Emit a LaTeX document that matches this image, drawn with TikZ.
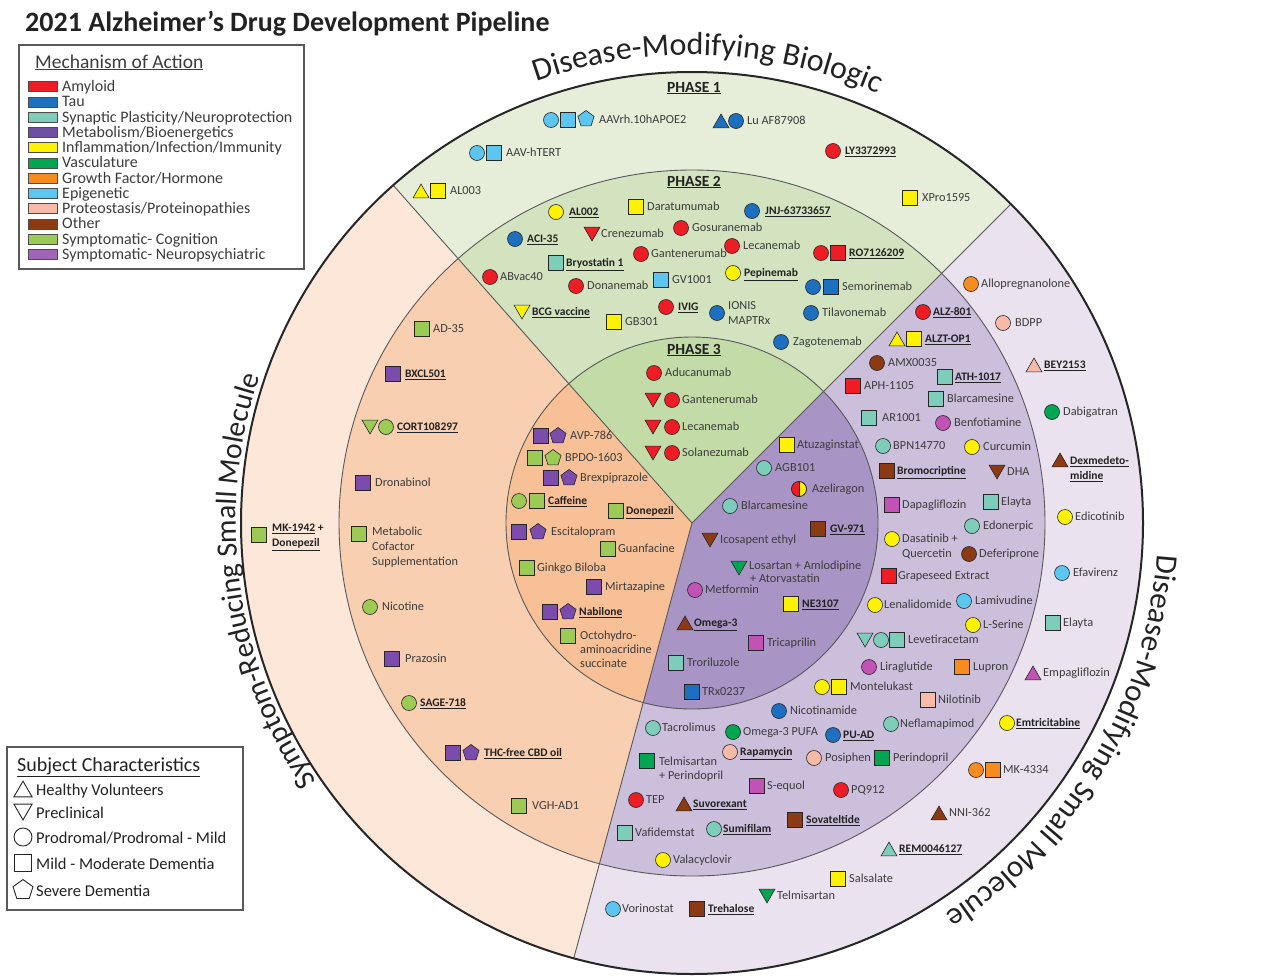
\documentclass[tikz,border=0pt]{standalone}
\usepackage{fontspec}
\setmainfont{Carlito}
\usetikzlibrary{shapes.geometric,decorations.text}
\definecolor{amy}{HTML}{EE1C25}
\definecolor{tau}{HTML}{1D6FC0}
\definecolor{syn}{HTML}{7ECDBB}
\definecolor{metL}{HTML}{6E4FA3}
\definecolor{met}{HTML}{C152B6}
\definecolor{inf}{HTML}{FFF200}
\definecolor{vas}{HTML}{00A651}
\definecolor{gro}{HTML}{F68B1F}
\definecolor{epi}{HTML}{5CC6F0}
\definecolor{pro}{HTML}{F7B9A8}
\definecolor{oth}{HTML}{8B3A14}
\definecolor{cog}{HTML}{9CCB55}
\definecolor{neu}{HTML}{7B4CAB}
\definecolor{neuL}{HTML}{A065B5}
\definecolor{gO}{HTML}{E6EDD9}
\definecolor{gM}{HTML}{D4E3BF}
\definecolor{gI}{HTML}{C3DBA6}
\definecolor{pO}{HTML}{FDE7D9}
\definecolor{pM}{HTML}{F9CFB1}
\definecolor{pI}{HTML}{F7C096}
\definecolor{vO}{HTML}{EAE2EE}
\definecolor{vM}{HTML}{CBBFDC}
\definecolor{vI}{HTML}{A894C5}
\definecolor{txt}{HTML}{3C3C3C}
\definecolor{txtb}{HTML}{222222}
\newcommand\drugfont{\fontsize{12.3}{14}\selectfont}
\newcommand\drugfontb{\fontsize{11.5}{13}\selectfont\bfseries}
\newcommand\dmk[5]{\node[#4,fill=#5] (#1) at (#2,#3) {};}
\newcommand\dlab[4]{\node[lb] (#1) at (#2,#3) {#4};}
\newcommand\dlabb[4]{\node[lbb] (#1) at (#2,#3) {\underline{#4}};}
\tikzset{
 mk/.style={draw=black!85, line width=0.6pt, inner sep=0pt, outer sep=0pt},
 ci/.style={mk, circle, minimum size=15pt},
 sq/.style={mk, rectangle, minimum size=14.5pt},
 tri/.style={mk, regular polygon, regular polygon sides=3, minimum size=18.5pt},
 tu/.style={tri, yshift=-2.3pt},
 td/.style={tri, shape border rotate=180, yshift=2.3pt},
 pg/.style={mk, regular polygon, regular polygon sides=5, minimum size=17pt},
 lb/.style={anchor=base west, inner sep=0pt, font=\drugfont, text=txt, yshift=-3.9pt},
 lbb/.style={lb, font=\drugfontb, text=txtb},
 phase/.style={inner sep=0pt, font=\fontsize{15.5}{17}\selectfont\bfseries, text=txtb},
 thinl/.style={line width=0.9pt, draw=black!65},
 sw/.style={line width=0.5pt, draw=black!70},
 leglab/.style={anchor=base west, inner sep=0pt, font=\fontsize{16}{18}\selectfont, text=txt},
 open/.style={draw=black!85, line width=0.9pt, fill=white, inner sep=0pt, outer sep=0pt},
 sclab/.style={anchor=base west, inner sep=0pt, font=\fontsize{16.5}{18}\selectfont, text=txtb},
}
\begin{document}
\begin{tikzpicture}[x=1pt, y=-1pt]
\path[use as bounding box, fill=white] (0,0) rectangle (1265,977);

% ---------- wheel ----------
\begin{scope}[shift={(692,523)}, y=1pt]
 \fill[gO] (0,0) -- (45:451pt) arc[start angle=45, end angle=131.5, radius=451pt] -- cycle;
 \fill[pO] (0,0) -- (131.5:451pt) arc[start angle=131.5, end angle=254.8, radius=451pt] -- cycle;
 \fill[vO] (0,0) -- (254.8:451pt) arc[start angle=254.8, end angle=405, radius=451pt] -- cycle;
 \fill[gM] (0,0) -- (45:353pt) arc[start angle=45, end angle=131.5, radius=353pt] -- cycle;
 \fill[pM] (0,0) -- (131.5:353pt) arc[start angle=131.5, end angle=254.8, radius=353pt] -- cycle;
 \fill[vM] (0,0) -- (254.8:353pt) arc[start angle=254.8, end angle=405, radius=353pt] -- cycle;
 \fill[gI] (0,0) -- (45:186pt) arc[start angle=45, end angle=131.5, radius=186pt] -- cycle;
 \fill[pI] (0,0) -- (131.5:186pt) arc[start angle=131.5, end angle=254.8, radius=186pt] -- cycle;
 \fill[vI] (0,0) -- (254.8:186pt) arc[start angle=254.8, end angle=405, radius=186pt] -- cycle;
 \draw[thinl] (0,0) circle[radius=353pt];
 \draw[thinl] (0,0) circle[radius=186pt];
 \draw[thinl] (0,0) -- (45:451pt);
 \draw[thinl] (0,0) -- (131.5:451pt);
 \draw[thinl] (0,0) -- (254.8:451pt);
 \draw[line width=2pt, draw=black!85] (0,0) circle[radius=451pt];
 \path[decorate, decoration={text along path, text align=center, text color=txtb,
   text={|\fontsize{32}{32}\selectfont|Disease-Modifying Biologic}}]
   (118:468pt) arc[start angle=118, end angle=58, radius=468pt];
 \path[decorate, decoration={text along path, text align=center, text color=txtb,
   text={|\fontsize{29.5}{30}\selectfont|Symptom-Reducing Small Molecule}}]
   (222:456pt) arc[start angle=222, end angle=153.8, radius=456pt];
 \path[decorate, decoration={text along path, text align=center, text color=txtb,
   text={|\fontsize{31}{31}\selectfont|Disease-Modifying Small Molecule}}]
   (2:466pt) arc[start angle=2, end angle=-63, radius=466pt];
\end{scope}

% ---------- title ----------
\node[anchor=west, inner sep=0pt, font=\fontsize{28}{32}\selectfont\bfseries, text=txtb] (title) at (25,24) {2021 Alzheimer’s Drug Development Pipeline};

% ---------- legend 1 ----------
\draw[line width=1.2pt, draw=black!65] (19,45) rectangle (304,269);
\node[anchor=base west, inner sep=0pt, font=\fontsize{19.5}{21}\selectfont, text=txt] (moa) at (35,68) {\underline{Mechanism of Action}};
\draw[sw, fill=amy] (28,81.5) rectangle (57,91.5);
\draw[sw, fill=tau] (28,96.75) rectangle (57,106.75);
\draw[sw, fill=syn] (28,112) rectangle (57,122);
\draw[sw, fill=metL] (28,127.25) rectangle (57,137.25);
\draw[sw, fill=inf] (28,142.5) rectangle (57,152.5);
\draw[sw, fill=vas] (28,157.75) rectangle (57,167.75);
\draw[sw, fill=gro] (28,173) rectangle (57,183);
\draw[sw, fill=epi] (28,188.25) rectangle (57,198.25);
\draw[sw, fill=pro] (28,203.5) rectangle (57,213.5);
\draw[sw, fill=oth] (28,218.75) rectangle (57,228.75);
\draw[sw, fill=cog] (28,234) rectangle (57,244);
\draw[sw, fill=neuL] (28,249.25) rectangle (57,259.25);
\node[leglab] (lg1) at (62,91.5) {Amyloid};
\node[leglab] (lg2) at (62,106.75) {Tau};
\node[leglab] (lg3) at (62,122) {Synaptic Plasticity/Neuroprotection};
\node[leglab] (lg4) at (62,137.25) {Metabolism/Bioenergetics};
\node[leglab] (lg5) at (62,152.5) {Inflammation/Infection/Immunity};
\node[leglab] (lg6) at (62,167.75) {Vasculature};
\node[leglab] (lg7) at (62,183) {Growth Factor/Hormone};
\node[leglab] (lg8) at (62,198.25) {Epigenetic};
\node[leglab] (lg9) at (62,213.5) {Proteostasis/Proteinopathies};
\node[leglab] (lg10) at (62,228.75) {Other};
\node[leglab] (lg11) at (62,244) {Symptomatic- Cognition};
\node[leglab] (lg12) at (62,259.25) {Symptomatic- Neuropsychiatric};

% ---------- legend 2 ----------
\draw[line width=1.2pt, draw=black!65] (7,747) rectangle (243,910);
\node[anchor=base west, inner sep=0pt, font=\fontsize{20}{22}\selectfont, text=txtb] (sct) at (17,771) {\underline{Subject Characteristics}};
\node[open, regular polygon, regular polygon sides=3, minimum size=21pt, yshift=-2.6pt] (sh1) at (23,789) {};
\node[open, regular polygon, regular polygon sides=3, shape border rotate=180, minimum size=21pt, yshift=2.6pt] (sh2) at (23,812) {};
\node[open, circle, minimum size=18pt] (sh3) at (23,837) {};
\node[open, rectangle, minimum size=17pt] (sh4) at (23,863) {};
\node[open, regular polygon, regular polygon sides=5, minimum size=21pt] (sh5) at (23,890) {};
\node[sclab] (sc1) at (36,795) {Healthy Volunteers};
\node[sclab] (sc2) at (36,818) {Preclinical};
\node[sclab] (sc3) at (36,843) {Prodromal/Prodromal - Mild};
\node[sclab] (sc4) at (36,869) {Mild - Moderate Dementia};
\node[sclab] (sc5) at (36,896) {Severe Dementia};

% ---------- phase headings ----------
\node[phase] (ph1) at (694,88) {\underline{PHASE 1}};
\node[phase] (ph2) at (694,182) {\underline{PHASE 2}};
\node[phase] (ph3) at (694,350) {\underline{PHASE 3}};

% ---------- Biologic phase 1 ----------
\dmk{a1}{551}{120}{ci}{epi}\dmk{a2}{568}{120}{sq}{epi}\dmk{a3}{586}{119}{pg}{epi}\dlab{b1}{599}{120}{AAVrh.10hAPOE2}
\dmk{a4}{721}{121}{tu}{tau}\dmk{a5}{736}{121}{ci}{tau}\dlab{b2}{747}{121}{Lu AF87908}
\dmk{a6}{477}{153}{ci}{epi}\dmk{a7}{494}{153}{sq}{epi}\dlab{b3}{506}{153}{AAV-hTERT}
\dmk{a8}{833}{151}{ci}{amy}\dlabb{b4}{845}{151}{LY3372993}
\dmk{a9}{421}{191}{tu}{inf}\dmk{a10}{438}{191}{sq}{inf}\dlab{b5}{450}{191}{AL003}
\dmk{a11}{910}{198}{sq}{inf}\dlab{b6}{922}{198}{XPro1595}

% ---------- Biologic phase 2 ----------
\dmk{c1}{556}{212}{ci}{inf}\dlabb{d1}{569}{212}{AL002}
\dmk{c2}{636}{207}{sq}{inf}\dlab{d2}{647}{207}{Daratumumab}
\dmk{c3}{752}{211}{ci}{tau}\dlabb{d3}{765}{211}{JNJ-63733657}
\dmk{c4}{515}{239}{ci}{tau}\dlabb{d4}{527}{239}{ACI-35}
\dmk{c5}{592}{234}{td}{amy}\dlab{d5}{601}{234}{Crenezumab}
\dmk{c6}{681}{228}{ci}{amy}\dlab{d6}{692}{228}{Gosuranemab}
\dmk{c7}{732}{246}{ci}{amy}\dlab{d7}{743}{246}{Lecanemab}
\dmk{c8}{641}{254}{ci}{amy}\dlab{d8}{651}{254}{Gantenerumab}
\dmk{c9}{821}{253}{ci}{amy}\dmk{c10}{838}{253}{sq}{amy}\dlabb{d9}{849}{253}{RO7126209}
\dmk{c11}{556}{263}{sq}{syn}\dlabb{d10}{566}{263}{Bryostatin 1}
\dmk{c12}{490}{277}{ci}{amy}\dlab{d11}{500}{277}{ABvac40}
\dmk{c13}{576}{286}{ci}{amy}\dlab{d12}{587}{286}{Donanemab}
\dmk{c14}{661}{280}{sq}{epi}\dlab{d13}{672}{280}{GV1001}
\dmk{c15}{733}{273}{ci}{inf}\dlabb{d14}{744}{273}{Pepinemab}
\dmk{c16}{813}{287}{ci}{tau}\dmk{c17}{831}{287}{sq}{tau}\dlab{d15}{842}{287}{Semorinemab}
\dmk{c18}{522}{312}{td}{inf}\dlabb{d16}{532}{312}{BCG vaccine}
\dmk{c19}{614}{322}{sq}{inf}\dlab{d17}{625}{322}{GB301}
\dmk{c20}{666}{307}{ci}{amy}\dlabb{d18}{678}{307}{IVIG}
\dmk{c21}{717}{313}{ci}{tau}\dlab{d19}{728}{306}{IONIS}\dlab{d20}{728}{321}{MAPTRx}
\dmk{c22}{811}{313}{ci}{tau}\dlab{d21}{822}{313}{Tilavonemab}
\dmk{c23}{781}{342}{ci}{tau}\dlab{d22}{793}{342}{Zagotenemab}

% ---------- Biologic phase 3 ----------
\dmk{e1}{654}{373}{ci}{amy}\dlab{f1}{665}{373}{Aducanumab}
\dmk{e2}{653}{400}{td}{amy}\dmk{e3}{672}{400}{ci}{amy}\dlab{f2}{682}{400}{Gantenerumab}
\dmk{e4}{653}{427}{td}{amy}\dmk{e5}{672}{427}{ci}{amy}\dlab{f3}{682}{427}{Lecanemab}
\dmk{e6}{653}{453}{td}{amy}\dmk{e7}{672}{453}{ci}{amy}\dlab{f4}{682}{453}{Solanezumab}

% ---------- Symptomatic phase 3 ----------
\dmk{g1}{541}{436}{sq}{neu}\dmk{g2}{558}{436}{pg}{neu}\dlab{h1}{570}{436}{AVP-786}
\dmk{g3}{535}{458}{sq}{cog}\dmk{g4}{553}{458}{pg}{cog}\dlab{h2}{565}{458}{BPDO-1603}
\dmk{g5}{551}{478}{sq}{neu}\dmk{g6}{569}{478}{pg}{neu}\dlab{h3}{580}{478}{Brexpiprazole}
\dmk{g7}{519}{501}{ci}{cog}\dmk{g8}{537}{501}{sq}{cog}\dlabb{h4}{548}{501}{Caffeine}
\dmk{g9}{616}{511}{sq}{cog}\dlabb{h5}{626}{511}{Donepezil}
\dmk{g10}{519}{532}{sq}{neu}\dmk{g11}{538}{532}{pg}{neu}\dlab{h6}{551}{532}{Escitalopram}
\dmk{g12}{608}{549}{sq}{cog}\dlab{h7}{618}{549}{Guanfacine}
\dmk{g13}{527}{568}{sq}{cog}\dlab{h8}{537}{568}{Ginkgo Biloba}
\dmk{g14}{594}{587}{sq}{neu}\dlab{h9}{605}{587}{Mirtazapine}
\dmk{g15}{550}{612}{sq}{neu}\dmk{g16}{568}{612}{pg}{neu}\dlabb{h10}{579}{612}{Nabilone}
\dmk{g17}{568}{636}{sq}{cog}\dlab{h11}{580}{636}{Octohydro-}\dlab{h12}{580}{650}{aminoacridine}\dlab{h13}{580}{664}{succinate}

% ---------- DMSM phase 3 ----------
\dmk{i1}{787}{445}{sq}{inf}\dlab{j1}{797}{445}{Atuzaginstat}
\dmk{i2}{764}{468}{ci}{syn}\dlab{j2}{775}{468}{AGB101}
\dmk{i3}{799}{489}{ci}{inf}
\fill[amy] (i3.north) arc[start angle=90, end angle=270, radius=7.5pt] -- cycle;
\draw[line width=0.6pt, draw=black!85] (i3.north) -- (i3.south);
\draw[line width=0.6pt, draw=black!85] (i3.center) circle[radius=7.5pt];
\dlab{j3}{812}{489}{Azeliragon}
\dmk{i4}{730}{506}{ci}{syn}\dlab{j4}{741}{506}{Blarcamesine}
\dmk{i5}{818}{529}{sq}{oth}\dlabb{j5}{830}{529}{GV-971}
\dmk{i6}{710}{540}{td}{oth}\dlab{j6}{720}{540}{Icosapent ethyl}
\dmk{i7}{739}{568}{td}{vas}\dlab{j7}{749}{566}{Losartan + Amlodipine}\dlab{j8}{750}{579}{+ Atorvastatin}
\dmk{i8}{695}{590}{ci}{met}\dlab{j9}{705}{590}{Metformin}
\dmk{i9}{791}{604}{sq}{inf}\dlabb{j10}{802}{604}{NE3107}
\dmk{i10}{685}{623}{tu}{oth}\dlabb{j11}{694}{623}{Omega-3}
\dmk{i11}{756}{643}{sq}{met}\dlab{j12}{767}{643}{Tricaprilin}
\dmk{i12}{676}{663}{sq}{syn}\dlab{j13}{687}{663}{Troriluzole}
\dmk{i13}{692}{692}{sq}{tau}\dlab{j14}{702}{692}{TRx0237}

% ---------- DMSM phase 2 ----------
\dmk{k1}{923}{312}{ci}{amy}\dlabb{n1}{933}{312}{ALZ-801}
\dmk{k2}{897}{339}{tu}{inf}\dmk{k3}{914}{339}{sq}{inf}\dlabb{n2}{925}{339}{ALZT-OP1}
\dmk{k4}{877}{363}{ci}{oth}\dlab{n3}{888}{363}{AMX0035}
\dmk{k5}{945}{377}{sq}{syn}\dlabb{n4}{955}{377}{ATH-1017}
\dmk{k6}{853}{386}{sq}{amy}\dlab{n5}{864}{386}{APH-1105}
\dmk{k7}{936}{399}{sq}{syn}\dlab{n6}{947}{399}{Blarcamesine}
\dmk{k8}{869}{418}{sq}{syn}\dlab{n7}{882}{418}{AR1001}
\dmk{k9}{943}{423}{ci}{met}\dlab{n8}{954}{423}{Benfotiamine}
\dmk{k10}{883}{446}{ci}{syn}\dlab{n9}{893}{446}{BPN14770}
\dmk{k11}{972}{447}{ci}{inf}\dlab{n10}{983}{447}{Curcumin}
\dmk{k12}{887}{471}{sq}{oth}\dlabb{n11}{897}{471}{Bromocriptine}
\dmk{k13}{997}{472}{td}{oth}\dlab{n12}{1007}{472}{DHA}
\dmk{k14}{892}{505}{sq}{met}\dlab{n13}{902}{505}{Dapagliflozin}
\dmk{k15}{991}{502}{sq}{syn}\dlab{n14}{1001}{502}{Elayta}
\dmk{k16}{972}{526}{ci}{syn}\dlab{n15}{983}{526}{Edonerpic}
\dmk{k17}{892}{539}{ci}{inf}\dlab{n16}{902}{539}{Dasatinib +}\dlab{n17}{902}{554}{Quercetin}
\dmk{k18}{969}{554}{ci}{oth}\dlab{n18}{979}{554}{Deferiprone}
\dmk{k19}{889}{576}{sq}{amy}\dlab{n19}{898}{576}{Grapeseed Extract}
\dmk{k20}{875}{605}{ci}{inf}\dlab{n20}{884}{605}{Lenalidomide}
\dmk{k21}{964}{601}{ci}{epi}\dlab{n21}{975}{601}{Lamivudine}
\dmk{k22}{973}{625}{ci}{inf}\dlab{n22}{983}{625}{L-Serine}
\dmk{k23}{865}{640}{td}{syn}\dmk{k24}{881}{640}{ci}{syn}\dmk{k25}{897}{640}{sq}{syn}\dlab{n23}{908}{640}{Levetiracetam}
\dmk{k26}{869}{667}{ci}{met}\dlab{n24}{880}{667}{Liraglutide}
\dmk{k27}{962}{667}{sq}{gro}\dlab{n25}{973}{667}{Lupron}
\dmk{k28}{822}{687}{ci}{inf}\dmk{k29}{839}{687}{sq}{inf}\dlab{n26}{850}{687}{Montelukast}
\dmk{k30}{928}{700}{sq}{pro}\dlab{n27}{938}{700}{Nilotinib}
\dmk{k31}{779}{711}{ci}{tau}\dlab{n28}{790}{711}{Nicotinamide}
\dmk{k32}{891}{724}{ci}{syn}\dlab{n29}{900}{724}{Neflamapimod}
\dmk{k33}{653}{728}{ci}{syn}\dlab{n30}{662}{728}{Tacrolimus}
\dmk{k34}{733}{732}{ci}{vas}\dlab{n31}{743}{732}{Omega-3 PUFA}
\dmk{k35}{833}{735}{ci}{tau}\dlabb{n32}{843}{735}{PU-AD}
\dmk{k36}{730}{752}{ci}{pro}\dlabb{n33}{740}{752}{Rapamycin}
\dmk{k37}{814}{758}{ci}{pro}\dlab{n34}{825}{758}{Posiphen}
\dmk{k38}{882}{758}{sq}{vas}\dlab{n35}{893}{758}{Perindopril}
\dmk{k39}{647}{761}{sq}{vas}\dlab{n36}{659}{762}{Telmisartan}\dlab{n37}{659}{776}{+ Perindopril}
\dmk{k40}{757}{786}{sq}{met}\dlab{n38}{767}{786}{S-equol}
\dmk{k41}{841}{790}{ci}{amy}\dlab{n39}{851}{790}{PQ912}
\dmk{k42}{636}{800}{ci}{amy}\dlab{n40}{646}{800}{TEP}
\dmk{k43}{684}{804}{tu}{oth}\dlabb{n41}{693}{804}{Suvorexant}
\dmk{k44}{795}{820}{sq}{oth}\dlabb{n42}{806}{820}{Sovateltide}
\dmk{k45}{625}{833}{sq}{syn}\dlab{n43}{635}{833}{Vafidemstat}
\dmk{k46}{714}{829}{ci}{syn}\dlabb{n44}{723}{829}{Sumifilam}
\dmk{k47}{663}{860}{ci}{inf}\dlab{n45}{673}{860}{Valacyclovir}

% ---------- DMSM phase 1 ----------
\dmk{o1}{971}{284}{ci}{gro}\dlab{q1}{981}{284}{Allopregnanolone}
\dmk{o2}{1003}{323}{ci}{pro}\dlab{q2}{1015}{323}{BDPP}
\dmk{o3}{1034}{365}{tu}{pro}\dlabb{q3}{1044}{365}{BEY2153}
\dmk{o4}{1052}{412}{ci}{vas}\dlab{q4}{1063}{412}{Dabigatran}
\dmk{o5}{1060}{460}{tu}{oth}\dlabb{q5}{1070}{461}{Dexmedeto-}\dlabb{q6}{1070}{476}{midine}
\dmk{o6}{1065}{517}{ci}{inf}\dlab{q7}{1075}{517}{Edicotinib}
\dmk{o7}{1062}{573}{ci}{epi}\dlab{q8}{1073}{573}{Efavirenz}
\dmk{o8}{1053}{623}{sq}{syn}\dlab{q9}{1063}{623}{Elayta}
\dmk{o9}{1033}{673}{tu}{met}\dlab{q10}{1043}{673}{Empagliflozin}
\dmk{o10}{1007}{723}{ci}{inf}\dlabb{q11}{1016}{723}{Emtricitabine}
\dmk{o11}{976}{770}{ci}{gro}\dmk{o12}{993}{770}{sq}{gro}\dlab{q12}{1003}{770}{MK-4334}
\dmk{o13}{939}{813}{tu}{oth}\dlab{q13}{949}{813}{NNI-362}
\dmk{o14}{889}{849}{tu}{syn}\dlabb{q14}{899}{849}{REM0046127}
\dmk{o15}{838}{879}{sq}{inf}\dlab{q15}{849}{879}{Salsalate}
\dmk{o16}{767}{896}{td}{vas}\dlab{q16}{777}{896}{Telmisartan}
\dmk{o17}{613}{909}{ci}{epi}\dlab{q17}{622}{909}{Vorinostat}
\dmk{o18}{697}{909}{sq}{oth}\dlabb{q18}{708}{909}{Trehalose}

% ---------- Symptomatic phase 2 ----------
\dmk{r1}{422}{329}{sq}{cog}\dlab{s1}{433}{329}{AD-35}
\dmk{r2}{393}{374}{sq}{neu}\dlabb{s2}{405}{374}{BXCL501}
\dmk{r3}{370}{427}{td}{cog}\dmk{r4}{386}{427}{ci}{cog}\dlabb{s3}{397}{427}{CORT108297}
\dmk{r5}{363}{483}{sq}{neu}\dlab{s4}{375}{483}{Dronabinol}
\dmk{r6}{359}{534}{sq}{cog}\dlab{s5}{372}{532}{Metabolic}\dlab{s6}{372}{547}{Cofactor}\dlab{s7}{372}{562}{Supplementation}
\dmk{r7}{370}{607}{ci}{cog}\dlab{s8}{382}{607}{Nicotine}
\dmk{r8}{392}{659}{sq}{neu}\dlab{s9}{405}{659}{Prazosin}
\dmk{r9}{409}{703}{ci}{cog}\dlabb{s10}{420}{703}{SAGE-718}
\dmk{r10}{453}{753}{sq}{neu}\dmk{r11}{471}{753}{pg}{neu}\dlabb{s11}{484}{753}{THC-free CBD oil}
\dmk{r12}{519}{806}{sq}{cog}\dlab{s12}{532}{806}{VGH-AD1}

% ---------- Symptomatic phase 1 ----------
\dmk{t1}{259}{535}{sq}{cog}
\node[lbb] (u1) at (272,528) {\underline{MK-1942} +};
\node[lbb] (u2) at (272,543) {\underline{Donepezil}};
\end{tikzpicture}
\end{document}
